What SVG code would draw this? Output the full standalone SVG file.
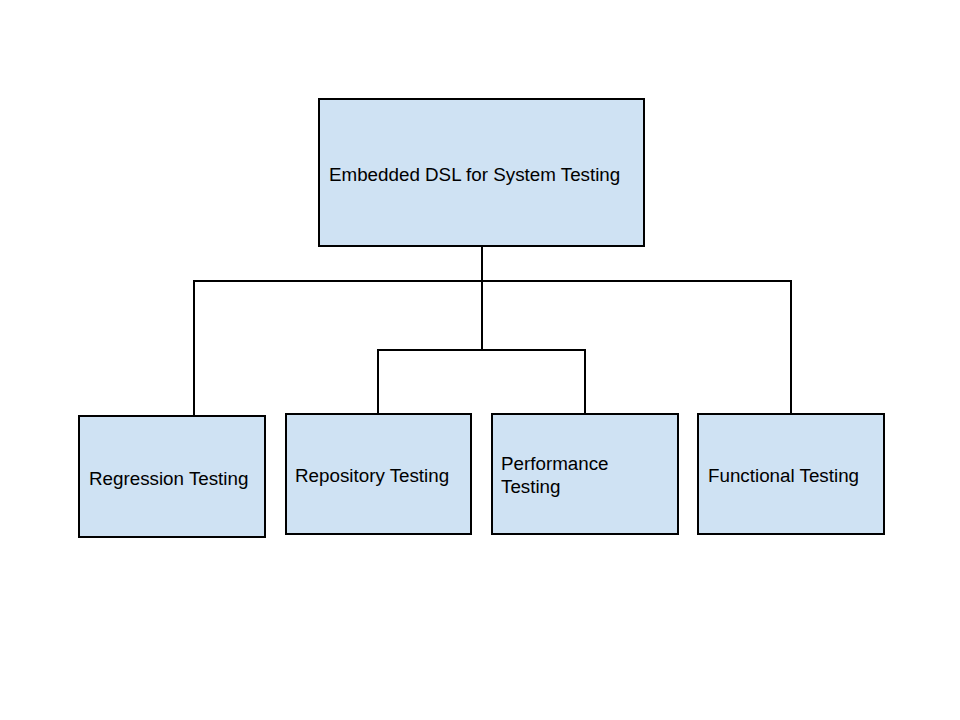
<svg xmlns="http://www.w3.org/2000/svg" width="960" height="720" viewBox="0 0 960 720">
<style>
.box{fill:#cfe2f3;stroke:#000;stroke-width:2}
.lbl{font-family:"Liberation Sans",Arial,sans-serif;font-size:18.8px;fill:#000}
.conn{fill:none;stroke:#000;stroke-width:2}
</style>
<rect width="960" height="720" fill="#fff"/>
<g id="connectors">
<path class="conn" d="M482,246 V350"/>
<path class="conn" d="M194,416 V281 H791 V414"/>
<path class="conn" d="M378,414 V350 H585 V414"/>
</g>
<g id="root"><rect class="box" x="319" y="99" width="325" height="147"/><text class="lbl" x="329" y="181">Embedded DSL for System Testing</text></g>
<g id="regression"><rect class="box" x="79" y="416" width="186" height="121"/><text class="lbl" x="89" y="485">Regression Testing</text></g>
<g id="repository"><rect class="box" x="286" y="414" width="185" height="120"/><text class="lbl" x="295" y="482">Repository Testing</text></g>
<g id="performance"><rect class="box" x="492" y="414" width="186" height="120"/><text class="lbl" x="501" y="470">Performance</text><text class="lbl" x="501" y="493">Testing</text></g>
<g id="functional"><rect class="box" x="698" y="414" width="186" height="120"/><text class="lbl" x="708" y="482">Functional Testing</text></g>
</svg>
